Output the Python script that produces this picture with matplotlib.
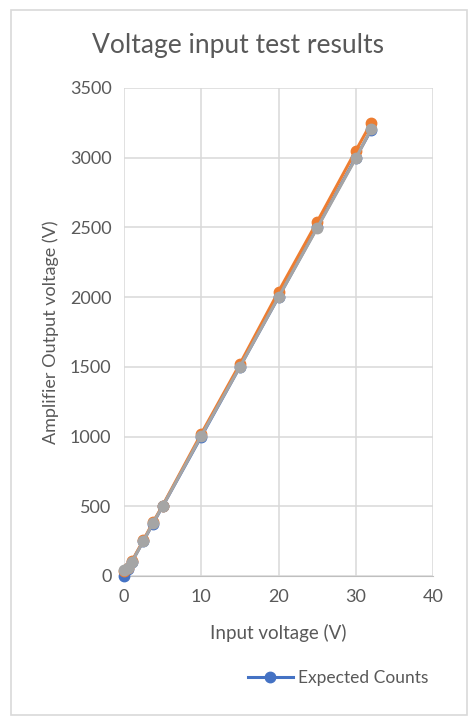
import matplotlib.pyplot as plt
from matplotlib.patches import Rectangle

# input voltages (V)
input_v = [0, 0.5, 1, 2.5, 3.75, 5, 10, 15, 20, 25, 30, 32]
expected = [0, 50, 100, 250, 375, 500, 1000, 1500, 2000, 2500, 3000, 3200]
measured_a = [35, 55, 105, 255, 385, 505, 1020, 1520, 2040, 2540, 3050, 3250]
measured_b = [40, 60, 100, 250, 380, 500, 1005, 1500, 2000, 2495, 2995, 3205]

plt.rcParams['font.family'] = ['Lato', 'DejaVu Sans']
txt = '#595959'
grid = '#D9D9D9'

fig = plt.figure(figsize=(4.76, 7.24), dpi=100)
fig.patches.append(Rectangle((11 / 476, 1 - 715 / 724), 456 / 476, 705 / 724,
                             transform=fig.transFigure, fill=False,
                             edgecolor=grid, linewidth=1.2))

ax = fig.add_axes([124 / 476, 1 - 576 / 724, 309 / 476, 488 / 724])

ax.plot(input_v, expected, color='#4472C4', lw=2.2, marker='o', ms=7.5,
        label='Expected Counts', zorder=3, clip_on=False)
ax.plot(input_v, measured_a, color='#ED7D31', lw=2.2, marker='o', ms=7.5,
        zorder=4, clip_on=False)
ax.plot(input_v, measured_b, color='#A5A5A5', lw=2.2, marker='o', ms=7.5,
        zorder=5, clip_on=False)

ax.set_xlim(0, 40)
ax.set_ylim(0, 3500)
ax.set_xticks(range(0, 41, 10))
ax.set_yticks(range(0, 3501, 500))
ax.grid(True, color=grid, linewidth=1.1)
ax.set_axisbelow(True)
for s in ['top', 'right', 'left']:
    ax.spines[s].set_visible(False)
ax.spines['bottom'].set_color('#BFBFBF')
ax.tick_params(length=0, labelsize=13, labelcolor=txt, pad=9)

ax.set_xlabel('Input voltage (V)', fontsize=13.5, color=txt, labelpad=14)
ax.set_ylabel('Amplifier Output voltage (V)', fontsize=13, color=txt,
              labelpad=8)

fig.text(0.5, 1 - 45 / 724, 'Voltage input test results', ha='center',
         va='center', fontsize=19, color=txt)

ax.legend(loc='center', bbox_to_anchor=(338 / 476, 1 - 678 / 724),
          bbox_transform=fig.transFigure, frameon=False, fontsize=12.5,
          labelcolor=txt, handlelength=2.6, handletextpad=0.3)

fig.savefig('out.png', dpi=100)
